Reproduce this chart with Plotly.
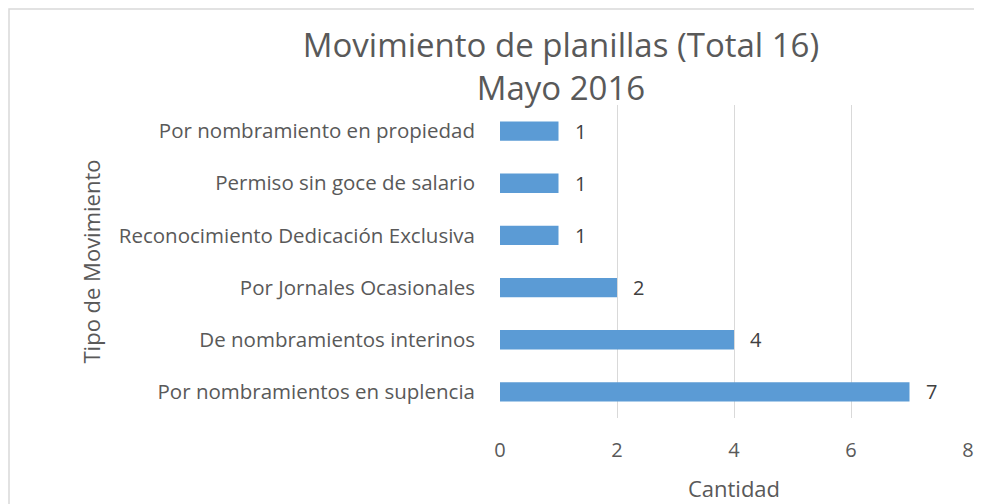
import plotly.graph_objects as go

categorias = [
    "Por nombramientos en suplencia",
    "De nombramientos interinos",
    "Por Jornales Ocasionales",
    "Reconocimiento Dedicación Exclusiva",
    "Permiso sin goce de salario",
    "Por nombramiento en propiedad",
]
cantidades = [7, 4, 2, 1, 1, 1]
x_ticks = [0, 2, 4, 6, 8]

FONT = "Open Sans"
GRAY = "#595959"

# The page body adds an 8px offset; figure is sized to fill the rest of the window.
FW, FH = 974, 496
W0, W1 = 492, 960
T0, T1 = 97, 410

fig = go.Figure(
    go.Bar(
        y=categorias,
        x=cantidades,
        orientation="h",
        marker=dict(color="#5B9BD5", line=dict(width=0)),
        width=0.37,
        cliponaxis=False,
        hoverinfo="x+y",
    )
)

for c, v in zip(categorias, cantidades):
    fig.add_annotation(
        x=v, y=c, xref="x", yref="y", text=str(v), showarrow=False,
        xanchor="left", xshift=14, font=dict(family=FONT, size=20, color="#404040"),
    )

def px_x(p):
    return (p - W0) / (W1 - W0)

def px_y(p):
    return (T1 - p) / (T1 - T0)

fig.add_shape(
    type="rect", xref="paper", yref="paper",
    x0=px_x(1), x1=px_x(1000), y0=px_y(520), y1=px_y(1),
    line=dict(color="#D9D9D9", width=1.5), fillcolor="rgba(0,0,0,0)", layer="below",
)

fig.update_layout(
    width=FW, height=FH,
    margin=dict(l=W0, r=FW - W1, t=T0, b=FH - T1, autoexpand=False),
    plot_bgcolor="white", paper_bgcolor="white",
    showlegend=False,
    font=dict(family=FONT, color=GRAY),
    title=dict(
        text="Movimiento de planillas (Total 16)<br>Mayo 2016",
        x=553 / FW, xref="container", xanchor="center",
        y=1 - 49 / FH, yref="container", yanchor="top",
        font=dict(family=FONT, size=33, color=GRAY),
    ),
)

fig.update_xaxes(
    range=[0, 8], tickvals=x_ticks, showgrid=True, gridcolor="#D9D9D9", gridwidth=1.3,
    zeroline=False, showline=False, ticks="", tickfont=dict(size=20, color=GRAY),
    title=dict(text="Cantidad", font=dict(size=22, color=GRAY), standoff=19),
    ticklabelstandoff=18, automargin=False,
)
fig.update_yaxes(
    showgrid=False, zeroline=False, showline=False, ticks="",
    tickfont=dict(size=20.5, color=GRAY), ticklabelstandoff=24, automargin=False,
    title=dict(text="Tipo de Movimiento", font=dict(size=22, color=GRAY), standoff=12),
)

fig.write_html("out.html")
